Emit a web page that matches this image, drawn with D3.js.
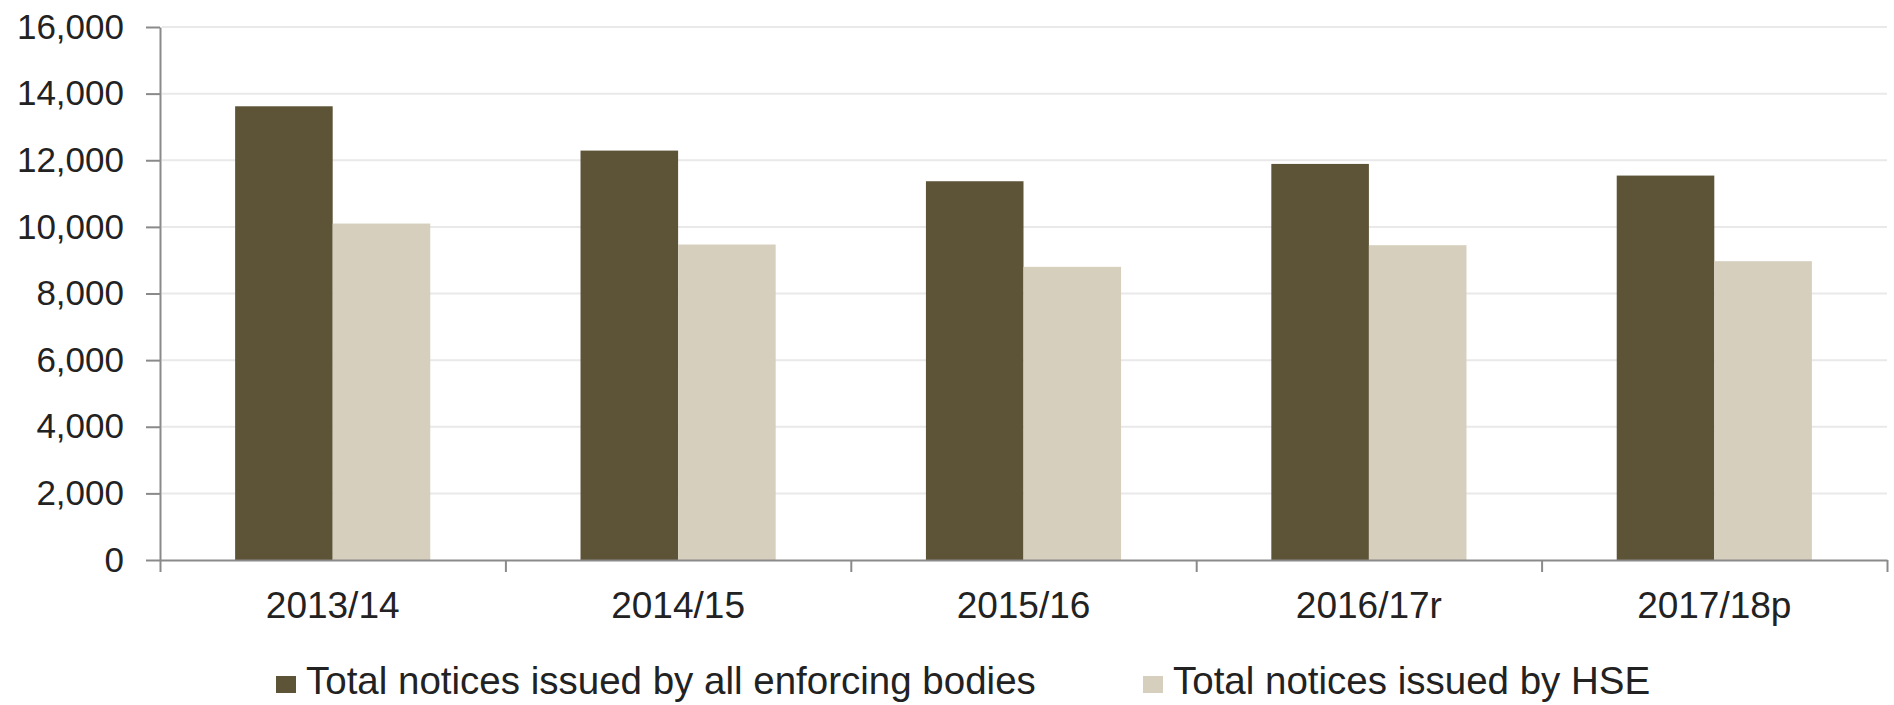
<!DOCTYPE html>
<html>
<head>
<meta charset="utf-8">
<script src="https://cdn.jsdelivr.net/npm/d3@7"></script>
<style>
  body { margin: 0; background: #fff; }
  svg { display: block; font-family: "Liberation Sans", Arial, sans-serif; }
</style>
</head>
<body>
<div id="chart"></div>
<script>

// data
const years = ['2013/14', '2014/15', '2015/16', '2016/17r', '2017/18p']
const all_bodies = [13620, 12290, 11370, 11890, 11540]
const hse_only = [10100, 9470, 8800, 9450, 8970]
const series_names = ['Total notices issued by all enforcing bodies', 'Total notices issued by HSE']
const y_ticks = [0, 2000, 4000, 6000, 8000, 10000, 12000, 14000, 16000]

const fig_margin = {top: 27, right: 7, bottom: 145, left: 160};
const fig_width = 1894 - fig_margin.left - fig_margin.right;
const fig_height = 705 - fig_margin.top - fig_margin.bottom;

const colours = ['#5d5337', '#d6cfbd']
const axis_col = '#8a8a8a'

const svg = d3.select('#chart')
    .append('svg')
    .attr('width', 1894)
    .attr('height', 705)

const fig = svg.append('g')
    .attr('transform', `translate(${fig_margin.left},${fig_margin.top})`)

const xscale = d3.scaleBand()
    .domain(years)
    .range([0, fig_width])
    .paddingInner(0.435)
    .paddingOuter(0.2175)

const xsub = d3.scaleBand()
    .domain([0, 1])
    .range([0, xscale.bandwidth()])

// boundaries between categories, for the x ticks
const xbound = d3.scaleLinear()
    .domain([0, years.length])
    .range([0, fig_width])

const yscale = d3.scaleLinear()
    .domain([0, 16000])
    .range([fig_height, 0])

// gridlines
fig.append('g')
    .selectAll('line')
    .data(y_ticks.filter(d => d > 0))
    .join('line')
    .attr('x1', 2)
    .attr('x2', fig_width)
    .attr('y1', d => yscale(d))
    .attr('y2', d => yscale(d))
    .attr('stroke', '#e9e9e9')
    .attr('stroke-width', 2)

// bars
const rows = years.map((y, i) => ({year: y, vals: [all_bodies[i], hse_only[i]]}))

fig.append('g')
    .selectAll('g')
    .data(rows)
    .join('g')
    .attr('transform', d => `translate(${xscale(d.year)},0)`)
    .selectAll('rect')
    .data(d => d.vals)
    .join('rect')
    .attr('x', (d, j) => xsub(j))
    .attr('width', xsub.bandwidth())
    .attr('y', d => yscale(d))
    .attr('height', d => fig_height - yscale(d))
    .attr('fill', (d, j) => colours[j])

// y axis
const yaxis = fig.append('g')
    .call(d3.axisLeft(yscale)
        .tickValues(y_ticks)
        .tickFormat(d3.format(','))
        .tickSize(14)
        .tickPadding(22)
        .tickSizeOuter(0))
yaxis.select('.domain').attr('stroke', axis_col).attr('stroke-width', 2)
yaxis.selectAll('.tick line').attr('stroke', axis_col).attr('stroke-width', 2)
yaxis.selectAll('.tick text')
    .attr('fill', '#222')
    .style('font-size', '35px')
    .style('font-family', '"Liberation Sans", Arial, sans-serif')

// x axis (ticks sit between the categories)
const xaxis = fig.append('g')
    .attr('transform', `translate(0,${fig_height})`)
    .call(d3.axisBottom(xbound)
        .ticks(years.length)
        .tickFormat('')
        .tickSize(12)
        .tickSizeOuter(0))
xaxis.select('.domain').attr('stroke', axis_col).attr('stroke-width', 2)
xaxis.selectAll('.tick line').attr('stroke', axis_col).attr('stroke-width', 2)

fig.append('g')
    .selectAll('text')
    .data(years)
    .join('text')
    .attr('x', d => xscale(d) + xscale.bandwidth() / 2)
    .attr('y', fig_height + 58)
    .attr('text-anchor', 'middle')
    .attr('fill', '#222')
    .style('font-size', '37px')
    .text(d => d)

// legend
const legend_x = [276, 1143]

const legend = svg.append('g')
    .selectAll('g')
    .data(series_names)
    .join('g')
    .attr('transform', (d, i) => `translate(${legend_x[i]},676)`)

legend.append('rect')
    .attr('width', 20)
    .attr('height', 17)
    .attr('fill', (d, i) => colours[i])

legend.append('text')
    .attr('x', 30)
    .attr('y', 18)
    .attr('fill', '#222')
    .style('font-size', '38.5px')
    .text(d => d)

</script>
</body>
</html>
